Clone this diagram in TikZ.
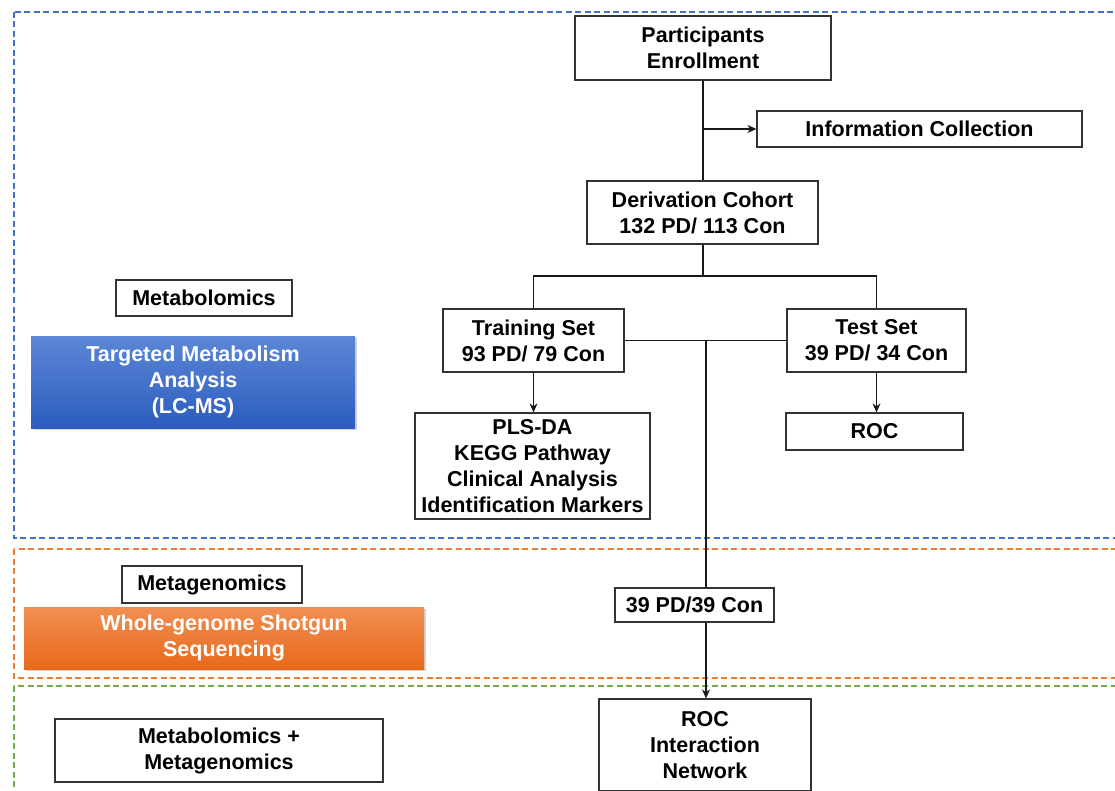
\documentclass[tikz,border=0pt]{standalone}
\usepackage{fontspec}
\setmainfont{Liberation Sans}
\usetikzlibrary{shadows,arrows.meta}
\definecolor{fblue}{HTML}{4472C4}
\definecolor{forange}{HTML}{ED7D31}
\definecolor{fgreen}{HTML}{70AD47}
\definecolor{gbtop}{HTML}{5C87D7}
\definecolor{gbbot}{HTML}{2C5DBE}
\definecolor{gotop}{HTML}{F18F52}
\definecolor{gobot}{HTML}{E8691B}
\tikzset{
  box/.style={draw=black!80, line width=1.2pt, fill=white, align=center, inner sep=0pt,
    font=\bfseries\fontsize{21.5}{26}\selectfont},
  gbox/.style={align=center, inner sep=0pt, text=white,
    font=\bfseries\fontsize{21.5}{26}\selectfont,
    drop shadow={opacity=0.35, shadow xshift=1.5pt, shadow yshift=-2pt}},
  frame/.style={dash pattern=on 6pt off 3.5pt, line width=1.8pt},
  conn/.style={line width=1.1pt, black!90},
  arr/.style={conn, -{Stealth[length=9pt,width=8pt]}}
}
\begin{document}
\begin{tikzpicture}[x=1pt,y=-1pt]
\useasboundingbox (0,0) rectangle (1115,791);
\clip (0,0) rectangle (1115,791);
% frames
\draw[frame, fblue] (14,12) rectangle (1130,538);
\draw[frame, forange] (14,549) rectangle (1130,678);
\draw[frame, fgreen] (14,686) rectangle (1130,810);

% left column
\node[box, minimum width=176, minimum height=36] (metab) at (204,298) {Metabolomics};
\node[gbox, top color=gbtop, bottom color=gbbot, minimum width=324, minimum height=92] (tma) at (193,382) {Targeted Metabolism\\Analysis\\(LC-MS)};
\node[box, minimum width=180, minimum height=37] (metag) at (212,584.5) {Metagenomics};
\node[gbox, top color=gotop, bottom color=gobot, minimum width=400, minimum height=62] (wgs) at (224,638) {Whole-genome Shotgun\\Sequencing};
\node[box, minimum width=328, minimum height=63] (mm) at (219,750.5) {Metabolomics +\\Metagenomics};

% flow
\node[box, minimum width=256, minimum height=64] (pe) at (703,48) {Participants\\Enrollment};
\node[box, minimum width=325, minimum height=36] (ic) at (919.5,129) {Information Collection};
\node[box, minimum width=231, minimum height=63] (dc) at (702.5,212.5) {Derivation Cohort\\132 PD/ 113 Con};
\node[box, minimum width=181, minimum height=63] (ts) at (533.5,340.5) {Training Set\\93 PD/ 79 Con};
\node[box, minimum width=179, minimum height=63] (te) at (876.5,340.5) {Test Set\\39 PD/ 34 Con};
\node[box, minimum width=235, minimum height=106] (pls) at (532.5,466) {PLS-DA\\KEGG Pathway\\Clinical Analysis\\Identification Markers};
\node[box, minimum width=177, minimum height=37] (roc) at (874.5,431.5) {ROC};
\node[box, minimum width=159, minimum height=34] (n39) at (694.5,605) {39 PD/39 Con};
\node[box, minimum width=212, minimum height=92] (rin) at (705,745) {ROC\\Interaction\\Network};

% connectors
\coordinate (t) at (703,80);
\coordinate (j1) at (703,129);
\coordinate (br) at (703,276);
\coordinate (m) at (706,341);
\draw[conn] (t) -- (t |- dc.north);
\draw[arr] (j1) -- (ic.west);
\draw[conn] (br |- dc.south) -- (br);
\draw[conn] (ts.north) |- (br) -| (te.north);
\draw[arr] (ts.south) -- (ts.south |- pls.north);
\draw[arr] (te.south) -- (te.south |- roc.north);
\draw[conn] (ts.east) -- (te.west);
\draw[conn] (m) -- (m |- n39.north);
\draw[arr] (m |- n39.south) -- (m |- rin.north);
\end{tikzpicture}
\end{document}
